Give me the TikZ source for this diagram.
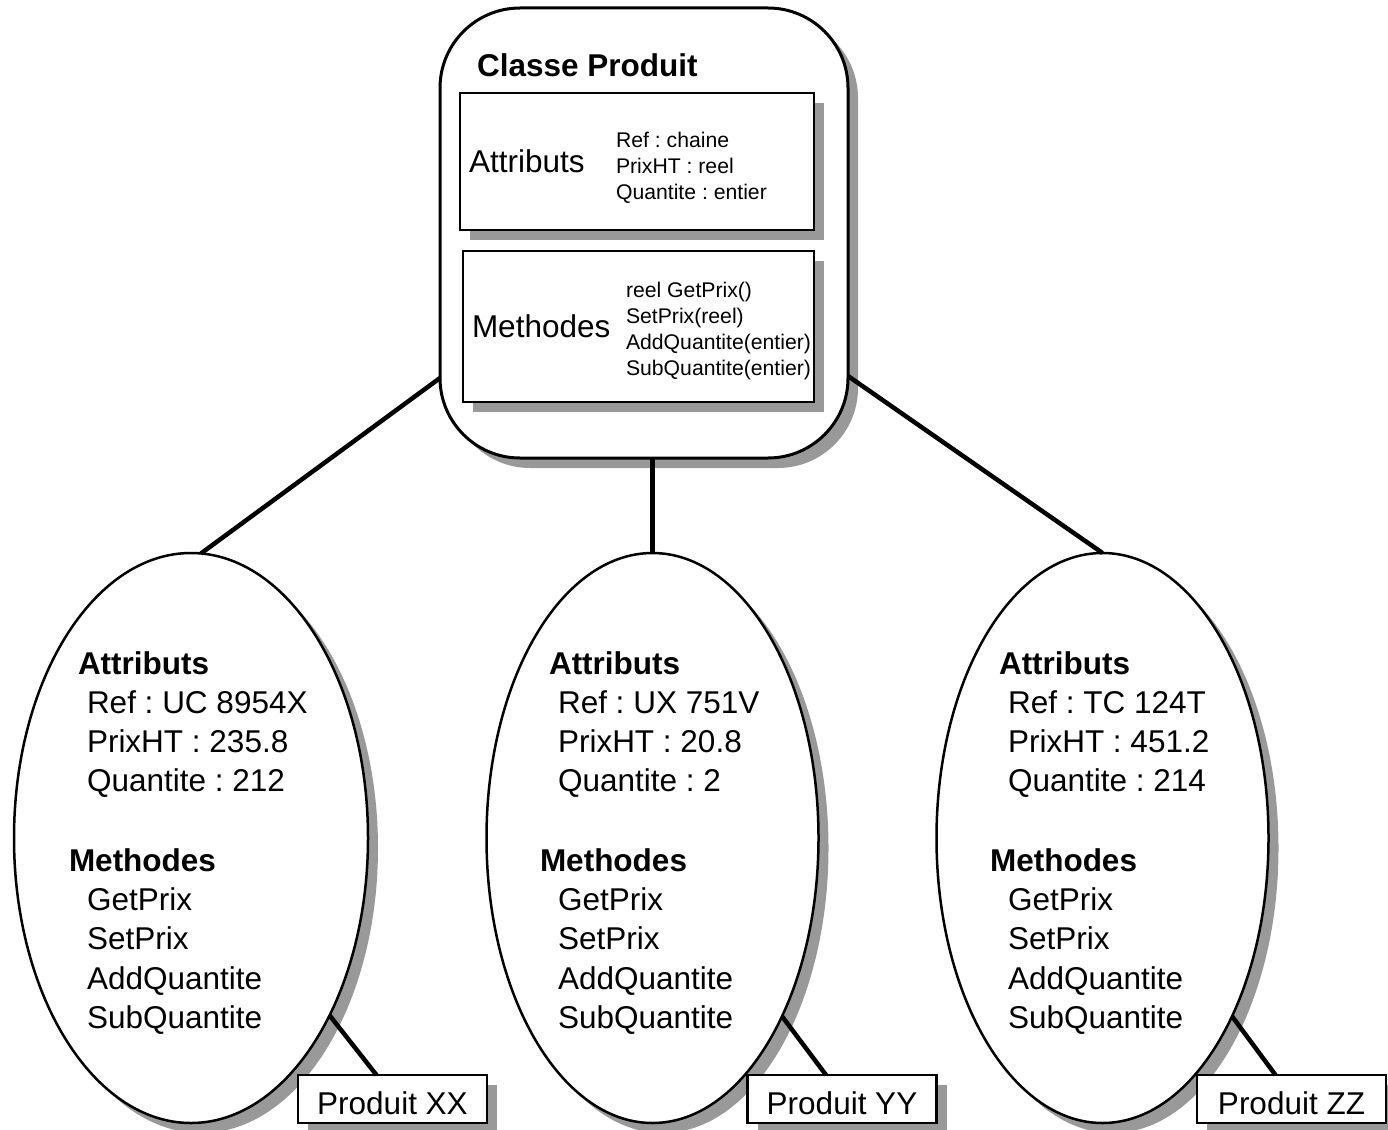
\documentclass[tikz,border=0pt]{standalone}
\usepackage{fontspec}
\setmainfont{Liberation Sans}
\usetikzlibrary{shapes.geometric,shadows}
\definecolor{shadowgray}{gray}{0.6}
\frenchspacing

\begin{document}
\begin{tikzpicture}[x=1pt,y=-1pt,
  every node/.style={inner sep=0pt,outer sep=0pt},
  dropsh/.style={drop shadow={shadow xshift=10pt,shadow yshift=-10pt,fill=shadowgray,opacity=1}},
  classbox/.style={draw,line width=3pt,fill=white,rounded corners=80pt,
    minimum width=408pt,minimum height=450pt,dropsh},
  partbox/.style={draw,line width=2.5pt,fill=white,dropsh},
  objell/.style={draw,ellipse,line width=2.5pt,fill=white,minimum height=570pt,dropsh},
  tagbox/.style={draw,line width=2.5pt,fill=white,minimum width=189pt,minimum height=48pt,
    text height=30pt,text depth=0pt,dropsh,font=\fontsize{31.5}{37}\selectfont},
  link/.style={line width=4.5pt},
  biglbl/.style={anchor=base west,font=\fontsize{31.5}{37}\selectfont},
  boldlbl/.style={anchor=base west,font=\fontsize{31.5}{37}\selectfont\bfseries},
  smalllbl/.style={anchor=base west,font=\fontsize{21.2}{26}\selectfont},
]
\useasboundingbox[fill=white] (0,0) rectangle (1388,1129);

% the class
\node[classbox] (cls) at (644,233) {};
\node[partbox,minimum width=354pt,minimum height=137pt] (attr) at (637,161.5) {};
\node[partbox,minimum width=351pt,minimum height=151pt] (meth) at (638.5,326.5) {};
\node[boldlbl] (title) at (477,77) {Classe Produit};
\node[biglbl] (attrlbl) at (469,172) {Attributs};
\node[smalllbl] (a1) at (616,147.5) {Ref : chaine};
\node[smalllbl] (a2) at (616,173.5) {PrixHT : reel};
\node[smalllbl] (a3) at (616,199.5) {Quantite : entier};
\node[biglbl] (methlbl) at (472,337) {Methodes};
\node[smalllbl] (m1) at (626,297.5) {reel GetPrix()};
\node[smalllbl] (m2) at (626,323.5) {SetPrix(reel)};
\node[smalllbl] (m3) at (626,349.5) {AddQuantite(entier)};
\node[smalllbl] (m4) at (626,375.5) {SubQuantite(entier)};

% the three objects
\foreach \i/\cx/\w/\tx/\r/\p/\q/\n/\ang/\bx in {
    1/191/354/78/UC 8954X/235.8/212/XX/-52.3/392.5,
    2/652.5/332/549/UX 751V/20.8/2/YY/-54.1/842,
    3/1102.5/332/999/TC 124T/451.2/214/ZZ/-54.1/1291.5}{
  \node[objell,minimum width=\w pt] (e\i) at (\cx,838) {};
  \node[boldlbl] (e\i h1) at (\tx,674) {Attributs};
  \node[biglbl] (e\i r) at (\tx+9,713) {Ref : \r};
  \node[biglbl] (e\i p) at (\tx+9,752) {PrixHT : \p};
  \node[biglbl] (e\i q) at (\tx+9,791) {Quantite : \q};
  \node[boldlbl] (e\i h2) at (\tx-9,871) {Methodes};
  \node[biglbl] (e\i g) at (\tx+9,910) {GetPrix};
  \node[biglbl] (e\i s) at (\tx+9,949) {SetPrix};
  \node[biglbl] (e\i a) at (\tx+9,989) {AddQuantite};
  \node[biglbl] (e\i b) at (\tx+9,1028) {SubQuantite};
  \node[tagbox] (t\i) at (\bx,1099) {Produit \n};
  \draw[link] (e\i.\ang) -- ([xshift=-16pt]t\i.north);
}

% links from the class to its objects
\draw[link] ([yshift=80pt]cls.south west) -- (e1.88);
\draw[link] (e2.north |- cls.south) -- (e2.north);
\draw[link] ([yshift=82pt]cls.south east) -- (e3.north);
\end{tikzpicture}
\end{document}
